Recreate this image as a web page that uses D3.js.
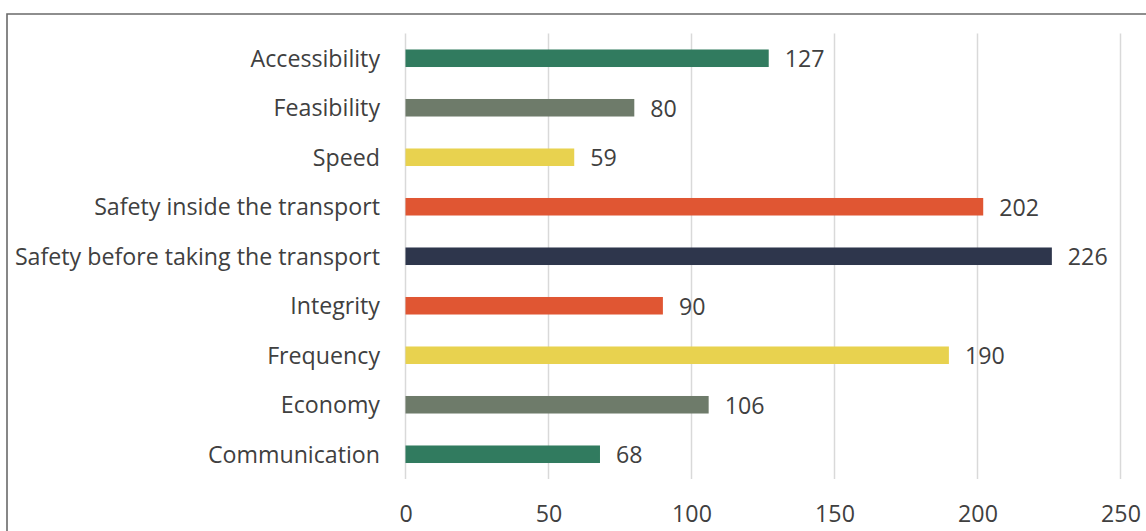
<!DOCTYPE html>
<html>
<head>
<meta charset="utf-8">
<script src="https://cdn.jsdelivr.net/npm/d3@7"></script>
<style>
  html, body { margin: 0; padding: 0; background: #fff; }
  svg { display: block; }
  text { font-family: "Open Sans", "Noto Sans", sans-serif; fill: #404040; }
</style>
</head>
<body>
<svg id="chart" width="1146" height="531"></svg>
<script>
// Factors rated by respondents
const categories = [
  "Accessibility",
  "Feasibility",
  "Speed",
  "Safety inside the transport",
  "Safety before taking the transport",
  "Integrity",
  "Frequency",
  "Economy",
  "Communication"
];
const values = [127, 80, 59, 202, 226, 90, 190, 106, 68];
const barColors = [
  "#317b5f", "#6e7b6a", "#e8d24f", "#e05633", "#2e364c",
  "#e05633", "#e8d24f", "#6e7b6a", "#317b5f"
];
const tickValues = [0, 50, 100, 150, 200, 250];

const FONT = 23.2;
const svg = d3.select("#chart");

// Outer frame (top and left edges visible)
svg.append("path")
  .attr("d", "M7,1146 L7,14 L1146,14")
  .attr("fill", "none")
  .attr("stroke", "#6a6a6a")
  .attr("stroke-width", 1.6);

const x = d3.scaleLinear().domain([0, 250]).range([405.5, 1120.5]);
const y = d3.scaleBand()
  .domain(categories)
  .range([33.5, 479])
  .paddingInner(0.646)
  .paddingOuter(0.323);

// Vertical gridlines
svg.append("g")
  .selectAll("line")
  .data(tickValues)
  .join("line")
  .attr("x1", d => x(d)).attr("x2", d => x(d))
  .attr("y1", 33.5).attr("y2", 479)
  .attr("stroke", "#d9d9d9")
  .attr("stroke-width", 1.5);

// X axis labels
const xAxis = d3.axisBottom(x).tickValues(tickValues).tickSize(0).tickPadding(0);
const gx = svg.append("g").attr("transform", "translate(0,506)").call(xAxis);
gx.select(".domain").remove();
gx.selectAll("text")
  .attr("font-size", FONT)
  .attr("fill", "#595959")
  .style("font-family", "\"Open Sans\", sans-serif");

// Y axis labels
const yAxis = d3.axisLeft(y).tickSize(0).tickPadding(0);
const gy = svg.append("g").attr("transform", "translate(380,0)").call(yAxis);
gy.select(".domain").remove();
gy.selectAll("text")
  .attr("font-size", FONT)
  .attr("dy", "0.36em")
  .attr("fill", "#595959")
  .style("font-family", "\"Open Sans\", sans-serif");

// Bars
svg.append("g")
  .selectAll("rect")
  .data(categories)
  .join("rect")
  .attr("x", x(0))
  .attr("y", d => y(d))
  .attr("width", (d, i) => x(values[i]) - x(0))
  .attr("height", y.bandwidth())
  .attr("fill", (d, i) => barColors[i]);

// Value labels
svg.append("g")
  .selectAll("text")
  .data(categories)
  .join("text")
  .attr("x", (d, i) => x(values[i]) + 16)
  .attr("y", d => y(d) + y.bandwidth() / 2)
  .attr("dy", "0.38em")
  .attr("font-size", FONT)
  .attr("fill", "#404040")
  .text((d, i) => values[i]);
</script>
</body>
</html>
